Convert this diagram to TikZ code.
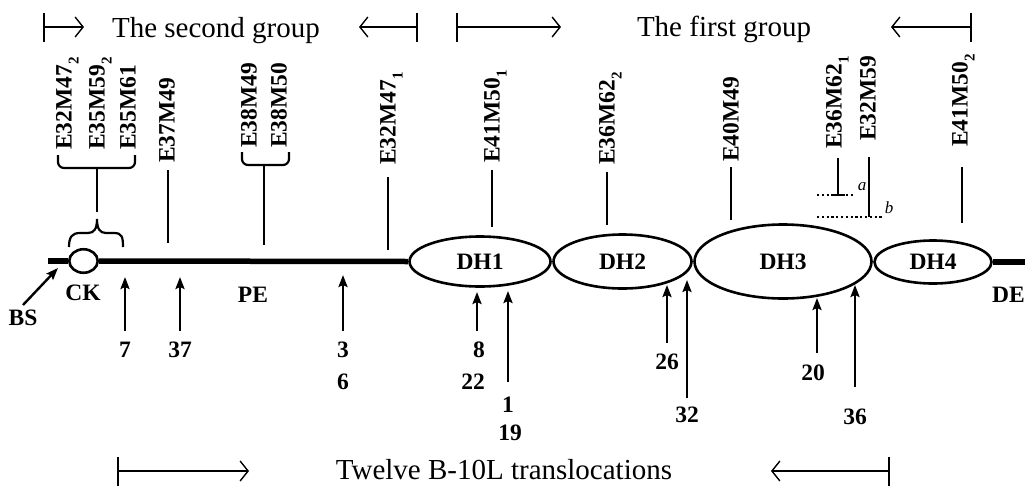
\documentclass[tikz,border=0pt]{standalone}
\usepackage{fontspec}
\setmainfont{Liberation Serif}
\usetikzlibrary{arrows.meta,shapes.geometric}
\newcommand\subn[1]{\raisebox{-7pt}{\fontsize{15}{15}\selectfont #1}}
\begin{document}
\begin{tikzpicture}[x=1pt,y=-1pt,
  bold/.style={font=\bfseries\fontsize{23.5}{28}\selectfont, inner sep=0pt},
  mk/.style={rotate=90, anchor=base west, inner sep=0pt, font=\bfseries\fontsize{23.5}{28}\selectfont},
  grp/.style={font=\fontsize{29}{34}\selectfont, inner sep=0pt, anchor=base},
  grparrow/.style={line width=1.4pt, {Bar[width=29pt,line width=2pt]}-{Straight Barb[length=8pt,width=20pt,line width=1.4pt]}},
  tick/.style={line width=2.2pt},
  up/.style={line width=2.4pt, -{Stealth[length=12pt,width=9pt,inset=2pt]}},
  dh/.style={draw, ellipse, line width=2.6pt, inner sep=0pt, font=\bfseries\fontsize{23.5}{28}\selectfont},
  chrom/.style={line width=5.5pt},
  dots/.style={line width=2.2pt, dash pattern=on 2.2pt off 2.6pt},
  ab/.style={font=\itshape\fontsize{17}{18}\selectfont, inner sep=0pt}
]
\useasboundingbox (0,0) rectangle (1025,485);

% group headers
\node[grp] (sg) at (216,37) {The second group};
\node[grp] (fg) at (724,36) {The first group};
\node[grp] (tw) at (504,479) {Twelve B-10L translocations};
\coordinate (sgA) at (43,27);  \coordinate (sgB) at (84,27);
\coordinate (sgC) at (418,27); \coordinate (sgD) at (359,27);
\coordinate (fgA) at (456,27); \coordinate (fgB) at (561,27);
\coordinate (fgC) at (972,27); \coordinate (fgD) at (891,27);
\coordinate (twA) at (117,471); \coordinate (twB) at (249,471);
\coordinate (twC) at (890,471); \coordinate (twD) at (771,471);
\draw[grparrow] (sgA) -- (sgB);
\draw[grparrow] (sgC) -- (sgD);
\draw[grparrow] (fgA) -- (fgB);
\draw[grparrow] (fgC) -- (fgD);
\draw[grparrow] (twA) -- (twB);
\draw[grparrow] (twC) -- (twD);

% chromosome
\node[dh, minimum width=28.5pt, minimum height=23.5pt] (ck) at (83.5,261) {};
\node[dh, minimum width=141pt, minimum height=50pt] (dh1) at (480,261.5) {DH1};
\node[dh, minimum width=138pt, minimum height=54pt] (dh2) at (622.5,261.5) {DH2};
\node[dh, minimum width=177pt, minimum height=74pt] (dh3) at (783,261.5) {DH3};
\node[dh, minimum width=117pt, minimum height=43pt] (dh4) at (933,262) {DH4};
\coordinate (lend) at (48,261);
\coordinate (rend) at (1035,262);
\draw[chrom] (lend) -- (ck.west);
\draw[chrom] (ck.east) -- (dh1.west);
\draw[chrom] (dh4.east) -- (rend);

% region labels
\node[bold] (CK) at (83,293) {CK};
\node[bold] (PE) at (253,295) {PE};
\node[bold] (BS) at (23,318) {BS};
\node[bold, anchor=west] (DE) at (992,295) {DE};
\coordinate (bsF) at (23,305);
\coordinate (bsT) at (58,268);
\draw[up] (bsF) -- (bsT);

% marker labels
\node[mk] (m1) at (71.5,150) {E32M47\subn{2}};
\node[mk] (m2) at (104.5,150) {E35M59\subn{2}};
\node[mk] (m3) at (135.5,150) {E35M61};
\node[mk] (m4) at (174.5,163) {E37M49};
\node[mk] (m5) at (256.5,148) {E38M49};
\node[mk] (m6) at (286.5,148) {E38M50};
\node[mk] (m7) at (395.5,165) {E32M47\subn{1}};
\node[mk] (m8) at (499.5,163) {E41M50\subn{1}};
\node[mk] (m9) at (614.5,165) {E36M62\subn{2}};
\node[mk] (m10) at (738.5,162) {E40M49};
\node[mk] (m11) at (841.5,149) {E36M62\subn{1}};
\node[mk] (m12) at (875.5,141) {E32M59};
\node[mk] (m13) at (967.5,147) {E41M50\subn{2}};

% brackets and ticks
\draw[tick, rounded corners=6pt] (58,155) -- (58,168) -- (135,168) -- (135,155);
\coordinate (s1a) at (97,168); \coordinate (s1b) at (97,212);
\draw[tick] (s1a) -- (s1b);
\draw[tick] (69,247) .. controls (69,237) and (72,233) .. (80,233) -- (88,233)
  .. controls (94,233) and (97,229) .. (97,219)
  .. controls (97,229) and (100,233) .. (106,233) -- (114,233)
  .. controls (122,233) and (123,237) .. (123,247);
\draw[tick, rounded corners=6pt] (242,152) -- (242,165) -- (289,165) -- (289,152);
\coordinate (s2a) at (264,165); \coordinate (s2b) at (264,245);
\draw[tick] (s2a) -- (s2b);
\coordinate (t4a) at (168,170); \coordinate (t4b) at (168,243);
\coordinate (t7a) at (388,177); \coordinate (t7b) at (388,250);
\coordinate (t8a) at (492,170); \coordinate (t8b) at (492,227);
\coordinate (t9a) at (607,172); \coordinate (t9b) at (607,225);
\coordinate (t10a) at (731,167); \coordinate (t10b) at (731,220);
\coordinate (t11a) at (838,158); \coordinate (t11b) at (838,195);
\coordinate (t12a) at (869,157); \coordinate (t12b) at (869,217);
\coordinate (t13a) at (962,167); \coordinate (t13b) at (962,223);
\foreach \t in {4,7,8,9,10,11,12,13} \draw[tick] (t\t a) -- (t\t b);
% dotted a / b
\coordinate (da1) at (817,195); \coordinate (da2) at (853,195);
\draw[dots] (da1) -- (da2);
\draw[tick] (831,195) -- (845,195);
\coordinate (db1) at (817,217); \coordinate (db2) at (884,217);
\draw[dots] (db1) -- (db2);
\node[ab] (la) at (862,187) {a};
\node[ab] (lb) at (889,208) {b};

% breakpoint numbers and arrows
\node[bold] (n7) at (125,350) {7};
\node[bold] (n37) at (180,350) {37};
\node[bold] (n3) at (343,350) {3};
\node[bold] (n6) at (343,382) {6};
\node[bold, anchor=east] (n8) at (485,350) {8};
\node[bold, anchor=east] (n22) at (485,382) {22};
\node[bold] (n1) at (508,405) {1};
\node[bold] (n19) at (510,433) {19};
\node[bold] (n26) at (667,362) {26};
\node[bold] (n32) at (687,415) {32};
\node[bold] (n20) at (813,373) {20};
\node[bold] (n36) at (855,417) {36};
\coordinate (a7s) at (125,331); \coordinate (a7t) at (125,277);
\coordinate (a37s) at (180,331); \coordinate (a37t) at (180,277);
\coordinate (a3s) at (343,331); \coordinate (a3t) at (343,275);
\coordinate (a8s) at (477,331); \coordinate (a8t) at (477,292);
\coordinate (a1s) at (508,382); \coordinate (a1t) at (508,291);
\coordinate (a26s) at (667,343); \coordinate (a26t) at (667,285);
\coordinate (a32s) at (687,398); \coordinate (a32t) at (687,280);
\coordinate (a20s) at (817,353); \coordinate (a20t) at (817,298);
\coordinate (a36s) at (855,387); \coordinate (a36t) at (855,285);
\foreach \a in {7,37,3,8,1,26,32,20,36} \draw[up] (a\a s) -- (a\a t);
\end{tikzpicture}
\end{document}
